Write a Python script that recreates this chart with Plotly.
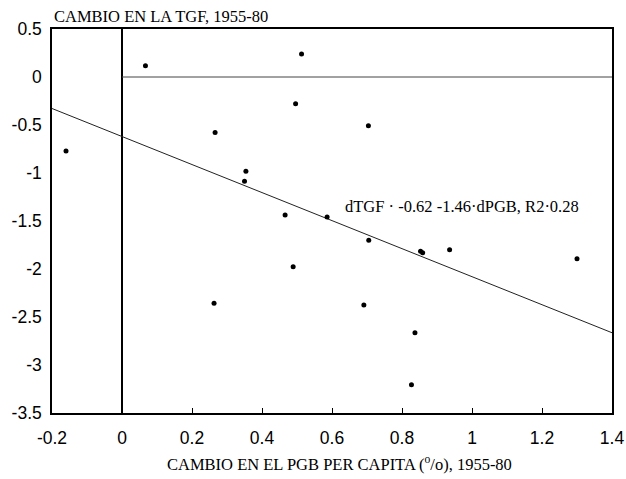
import plotly.graph_objects as go

# Data
pgb_change = [-0.16, 0.067, 0.513, 0.496, 0.266, 0.704, 0.354, 0.350, 0.466, 0.489,
              0.263, 0.586, 0.705, 0.853, 0.859, 0.936, 1.30, 0.691, 0.837, 0.827]
tgf_change = [-0.77, 0.118, 0.24, -0.278, -0.577, -0.508, -0.983, -1.087, -1.438, -1.976,
              -2.358, -1.458, -1.70, -1.815, -1.83, -1.80, -1.893, -2.375, -2.664, -3.205]

fit_x = [-0.2, 1.4]
fit_y = [-0.328, -2.664]

x_ticks = [-0.2, 0, 0.2, 0.4, 0.6, 0.8, 1, 1.2, 1.4]
x_tick_text = ["-0.2", "0", "0.2", "0.4", "0.6", "0.8", "1", "1.2", "1.4"]
y_ticks = [0.5, 0, -0.5, -1, -1.5, -2, -2.5, -3, -3.5]
y_tick_text = ["0.5", "0", "-0.5", "-1", "-1.5", "-2", "-2.5", "-3", "-3.5"]

serif = "Liberation Serif, Times New Roman, serif"
sans = "Liberation Sans, Arial, sans-serif"

fig = go.Figure()

# reference lines at x=0 and y=0
fig.add_trace(go.Scatter(x=[0, 0], y=[-3.5, 0.5], mode="lines",
                         line=dict(color="black", width=2), hoverinfo="skip", showlegend=False))
fig.add_trace(go.Scatter(x=[0, 1.4], y=[0, 0], mode="lines",
                         line=dict(color="#444", width=1), hoverinfo="skip", showlegend=False))
# regression line
fig.add_trace(go.Scatter(x=fit_x, y=fit_y, mode="lines",
                         line=dict(color="#222", width=1), showlegend=False))
# points
fig.add_trace(go.Scatter(x=pgb_change, y=tgf_change, mode="markers",
                         marker=dict(color="black", size=5), showlegend=False))

fig.add_annotation(x=0.632, y=-1.35, xref="x", yref="y", xanchor="left", yanchor="middle",
                   text="dTGF · -0.62 -1.46·dPGB, R2·0.28", showarrow=False,
                   font=dict(family=serif, size=16.5, color="black"))
fig.add_annotation(x=0, y=1, xref="paper", yref="paper", xanchor="left", yanchor="middle",
                   xshift=0, yshift=13,
                   text="CAMBIO EN LA TGF, 1955-80", showarrow=False,
                   font=dict(family=serif, size=16.5, color="black"))
fig.add_annotation(x=0.5125, y=0, xref="paper", yref="paper", xanchor="center", yanchor="middle",
                   yshift=-50,
                   text="CAMBIO EN EL PGB PER CAPITA (<sup>o</sup>/o), 1955-80", showarrow=False,
                   font=dict(family=serif, size=16.5, color="black"))

fig.update_xaxes(range=[-0.2, 1.4], tickvals=x_ticks, ticktext=x_tick_text,
                 ticks="inside", ticklen=5, tickcolor="black", tickwidth=1,
                 showgrid=False, zeroline=False, showline=True, linecolor="black",
                 linewidth=1.5, mirror=True, tickfont=dict(family=sans, size=17.5, color="black"),
                 ticklabelstandoff=8, automargin=False)
fig.update_yaxes(range=[-3.5, 0.5], tickvals=y_ticks, ticktext=y_tick_text,
                 ticks="", showgrid=False, zeroline=False, showline=True, linecolor="black",
                 linewidth=1.5, mirror=True, tickfont=dict(family=sans, size=17.5, color="black"),
                 ticklabelstandoff=5, automargin=False)

fig.update_layout(width=626, height=479, margin=dict(l=52, r=14, t=29, b=66),
                  plot_bgcolor="white", paper_bgcolor="white")

# remove the default page margin so the figure fills the window exactly
fig.write_html("out.html", config={"displayModeBar": False},
               post_script="document.body.style.margin='0';document.body.style.overflow='hidden';")
